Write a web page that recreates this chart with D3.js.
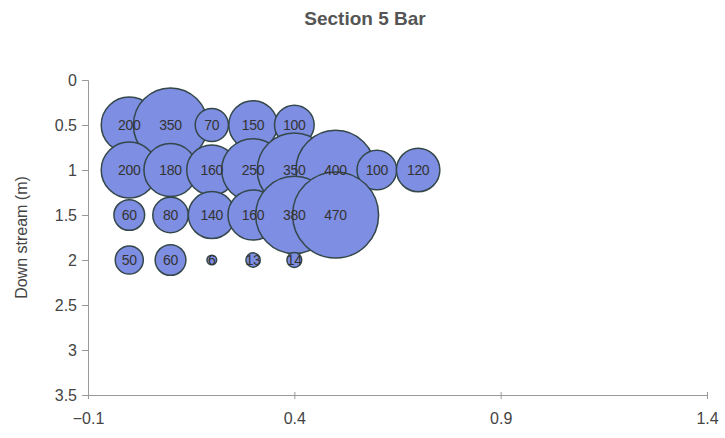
<!DOCTYPE html>
<html>
<head>
<meta charset="utf-8">
<script src="https://cdn.jsdelivr.net/npm/d3@7"></script>
<style>
  body { margin: 0; background: #fff; }
  svg { display: block; font-family: "Liberation Sans", Arial, sans-serif; }
</style>
</head>
<body>
<div id="chart"></div>
<script>
// bubble rows: distance down stream (m) and sizes at x = 0 .. 0.7
const rowDepths = [0.5, 1, 1.5, 2];
const xPositions = [0, 0.1, 0.2, 0.3, 0.4, 0.5, 0.6, 0.7];
const row05 = [200, 350, 70, 150, 100];
const row10 = [200, 180, 160, 250, 350, 400, 100, 120];
const row15 = [60, 80, 140, 160, 380, 470];
const row20 = [50, 60, 6, 13, 14];
const xTicks = [-0.1, 0.4, 0.9, 1.4];
const yTicks = [0, 0.5, 1, 1.5, 2, 2.5, 3, 3.5];

const width = 725, height = 438;
const margin = { top: 80, right: 18, bottom: 43, left: 88 };

const rows = [row05, row10, row15, row20];
const points = [];
rows.forEach((vals, i) => {
    vals.forEach((v, j) => points.push({ x: xPositions[j], y: rowDepths[i], size: v }));
});

const svg = d3.select('#chart').append('svg')
    .attr('width', width)
    .attr('height', height);

const x = d3.scaleLinear()
    .domain([-0.1, 1.4])
    .range([margin.left, width - margin.right]);

const y = d3.scaleLinear()
    .domain([0, 3.5])
    .range([margin.top, height - margin.bottom]);

const r = d3.scaleSqrt()
    .domain([0, d3.max(points, d => d.size)])
    .range([0, 43]);

// title
svg.append('text')
    .attr('x', 365)
    .attr('y', 25)
    .attr('text-anchor', 'middle')
    .style('font-size', '19px')
    .style('font-weight', 'bold')
    .style('fill', '#555')
    .text('Section 5 Bar');

// axes
const xAxis = d3.axisBottom(x).tickValues(xTicks).tickSize(4).tickFormat(d3.format('.1f'));
const yAxis = d3.axisLeft(y).tickValues(yTicks).tickSize(6).tickFormat(d => String(d));

const gx = svg.append('g')
    .attr('transform', `translate(0,${height - margin.bottom})`)
    .call(xAxis);
gx.select('.domain').attr('stroke', '#999');
gx.selectAll('.tick line').attr('stroke', '#999').attr('y1', -3);
gx.selectAll('.tick text')
    .attr('y', 17)
    .attr('dy', '0.75em')
    .style('font-size', '16px')
    .style('fill', '#444');

const gy = svg.append('g')
    .attr('transform', `translate(${margin.left},0)`)
    .call(yAxis);
gy.select('.domain').attr('stroke', '#999');
gy.selectAll('.tick line').attr('stroke', '#999');
gy.selectAll('.tick text')
    .attr('x', -11)
    .style('font-size', '16px')
    .style('fill', '#444');

svg.append('text')
    .attr('transform', 'rotate(-90)')
    .attr('x', -(margin.top + height - margin.bottom) / 2)
    .attr('y', 27)
    .attr('text-anchor', 'middle')
    .style('font-size', '16px')
    .style('fill', '#444')
    .text('Down stream (m)');

// bubbles
svg.append('g').selectAll('circle')
    .data(points)
    .join('circle')
    .attr('cx', d => x(d.x))
    .attr('cy', d => y(d.y))
    .attr('r', d => r(d.size))
    .attr('fill', '#7e8ee2')
    .attr('stroke', '#34474a')
    .attr('stroke-width', 1.5);

// labels on top
svg.append('g').selectAll('text')
    .data(points)
    .join('text')
    .attr('x', d => x(d.x))
    .attr('y', d => y(d.y))
    .attr('dy', '0.35em')
    .attr('text-anchor', 'middle')
    .style('font-size', '14px')
    .style('letter-spacing', '-0.3px')
    .style('fill', '#333')
    .text(d => d.size);
</script>
</body>
</html>
